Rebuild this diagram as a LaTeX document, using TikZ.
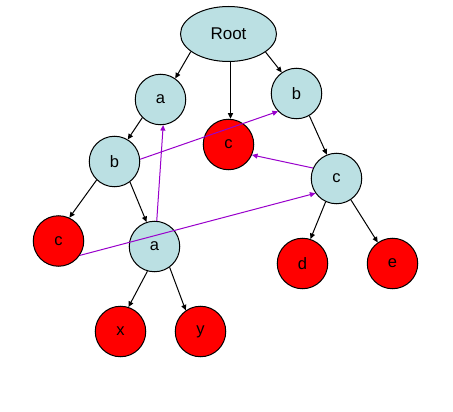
\documentclass[tikz,border=0pt]{standalone}
\usepackage{fontspec}
\setmainfont{Liberation Sans}
\usetikzlibrary{arrows.meta,shapes.geometric}
\definecolor{nodeblue}{HTML}{BBE0E3}
\definecolor{linkpurple}{HTML}{9900CC}
\tikzset{
  treenode/.style={circle, draw=black, line width=1pt, minimum size=50.5pt, inner sep=0pt, font=\fontsize{16.5}{19}\selectfont},
  inner/.style={treenode, fill=nodeblue},
  leaf/.style={treenode, fill=red},
  rootnode/.style={ellipse, draw=black, line width=1pt, fill=nodeblue, minimum width=96pt, minimum height=55pt, inner sep=0pt, font=\fontsize{17}{20}\selectfont},
  arr/.style={draw=black, line width=1pt, -{Triangle[length=5.5pt,width=5pt]}},
  link/.style={draw=linkpurple, line width=1pt, -{Triangle[length=5.5pt,width=5pt]}}
}
\begin{document}
\begin{tikzpicture}[x=1pt,y=-1pt]
\useasboundingbox[fill=white] (0,0) rectangle (453,412);
\node[rootnode] (root) at (228.5,34) {Root};
\node[inner] (atop) at (160.5,99.5) {a};
\node[inner] (btop) at (296.5,93.5) {b};
\node[leaf] (cmid) at (228.5,144.5) {c};
\node[inner] (bleft) at (114.5,161.5) {b};
\node[inner] (cright) at (336.5,178.5) {c};
\node[leaf] (cleft) at (58.5,241) {c};
\node[inner] (abot) at (154.5,246.5) {a};
\node[leaf] (d) at (302.5,263.5) {d};
\node[leaf] (e) at (392.5,263.5) {e};
\node[leaf] (x) at (120.5,331.5) {x};
\node[leaf] (y) at (200.5,331.5) {y};
% tree edges
\draw[arr] (root.-155) -- (atop.55);
\draw[arr] ([xshift=2pt]root.south) -- ([xshift=2pt]cmid.north);
\draw[arr] (root.-26) -- (btop.125);
\draw[arr] (atop.225) -- (bleft.59);
\draw[arr] (btop.-60) -- (cright.112);
\draw[arr] (bleft.226) -- (cleft.65);
\draw[arr] (bleft.-53) -- (abot.108);
\draw[arr] (cright.-115) -- (d.72);
\draw[arr] (cright.-56) -- (e.125);
\draw[arr] (abot.-106) -- (x.72);
\draw[arr] (abot.-54) -- (y.125);
% suffix links
\draw[link] (bleft.5) -- (btop.224);
\draw[link] (abot.85) -- (atop.-84);
\draw[link] (cright.156) -- (cmid.-24);
\draw[link] (cleft.-34) -- (cright.215);
\end{tikzpicture}
\end{document}
